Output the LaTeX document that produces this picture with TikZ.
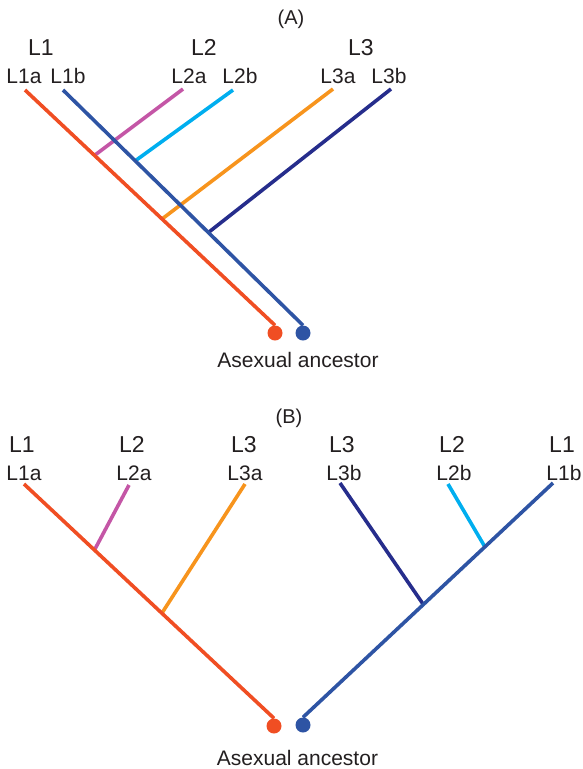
\documentclass[tikz,border=0pt]{standalone}
\usepackage{fontspec}
\setmainfont{Liberation Sans}
\usetikzlibrary{positioning}
\definecolor{ink}{HTML}{231F20}
\definecolor{lred}{HTML}{F04E23}
\definecolor{lblue}{HTML}{2E54A4}
\definecolor{lpink}{HTML}{C456A6}
\definecolor{lcyan}{HTML}{00AEEF}
\definecolor{lorange}{HTML}{F7941D}
\definecolor{lnavy}{HTML}{262D8C}

\begin{document}
\begin{tikzpicture}[x=1pt,y=-1pt,
  br/.style={line width=3.6pt},
  ttl/.style={font=\fontsize{20}{20}\selectfont,anchor=base,inner sep=0pt,text=ink},
  lin/.style={font=\fontsize{23}{23}\selectfont,anchor=base,inner sep=0pt,text=ink},
  sub/.style={font=\fontsize{21}{21}\selectfont,anchor=base,inner sep=0pt,text=ink},
  anc/.style={circle,inner sep=0pt,minimum size=15pt}]
\useasboundingbox (0,0) rectangle (582,769);
% (A): two lineages crossing
\node[ttl] (ttlA) at (291,24) {(A)};
\foreach \n/\x/\t in {aL1/41/L1,aL2/204/L2,aL3/361/L3}{
  \node[lin] (\n) at (\x,55) {\t};}
\foreach \n/\x/\t in {aL1a/24/L1a,aL1b/68/L1b,aL2a/189/L2a,aL2b/240/L2b,aL3a/338/L3a,aL3b/389/L3b}{
  \node[sub] (\n) at (\x,83) {\t};}
\coordinate (ta1a) at (25,90);
\coordinate (ta1b) at (63,90);
\coordinate (ta2a) at (183,89);
\coordinate (ta2b) at (233,90);
\coordinate (ta3a) at (333,89);
\coordinate (ta3b) at (391,89);
\coordinate (ja2a) at (95,155);
\coordinate (ja3a) at (162,219);
\coordinate (ja2b) at (135,161);
\coordinate (ja3b) at (209,232);
\node[anc,fill=lred] (ancA1) at (275,333) {};
\node[anc,fill=lblue] (ancA2) at (303,333) {};
\node[sub] (txtA) at (298,367) {Asexual ancestor};
\draw[br,lpink] (ta2a) -- (ja2a);
\draw[br,lcyan] (ta2b) -- (ja2b);
\draw[br,lorange] (ta3a) -- (ja3a);
\draw[br,lnavy] (ta3b) -- (ja3b);
\draw[br,lred] (ta1a) -- (ancA1.north);
\draw[br,lblue] (ta1b) -- (ancA2.north);
% (B): two separate trees
\node[ttl] (ttlB) at (289,423) {(B)};
\foreach \n/\x/\t in {bL1/22/L1,bL2/132/L2,bL3/244/L3,bM3/342/L3,bM2/452/L2,bM1/562/L1}{
  \node[lin] (\n) at (\x,452) {\t};}
\foreach \n/\x/\t in {bL1a/24/L1a,bL2a/134/L2a,bL3a/245/L3a,bL3b/344/L3b,bL2b/454/L2b,bL1b/564/L1b}{
  \node[sub] (\n) at (\x,480) {\t};}
\coordinate (tb1a) at (24,484);
\coordinate (tb2a) at (129,485);
\coordinate (tb3a) at (245,484);
\coordinate (tb3b) at (340,483);
\coordinate (tb2b) at (448,484);
\coordinate (tb1b) at (553,483);
\coordinate (jb2a) at (95,549);
\coordinate (jb3a) at (162,613);
\coordinate (jb2b) at (485,547);
\coordinate (jb3b) at (423,604);
\node[anc,fill=lred] (ancB1) at (274,726) {};
\node[anc,fill=lblue] (ancB2) at (303,725) {};
\node[sub] (txtB) at (297.5,765) {Asexual ancestor};
\draw[br,lpink] (tb2a) -- (jb2a);
\draw[br,lorange] (tb3a) -- (jb3a);
\draw[br,lnavy] (tb3b) -- (jb3b);
\draw[br,lcyan] (tb2b) -- (jb2b);
\draw[br,lred] (tb1a) -- (ancB1.north);
\draw[br,lblue] (tb1b) -- (ancB2.north);
\end{tikzpicture}
\end{document}
